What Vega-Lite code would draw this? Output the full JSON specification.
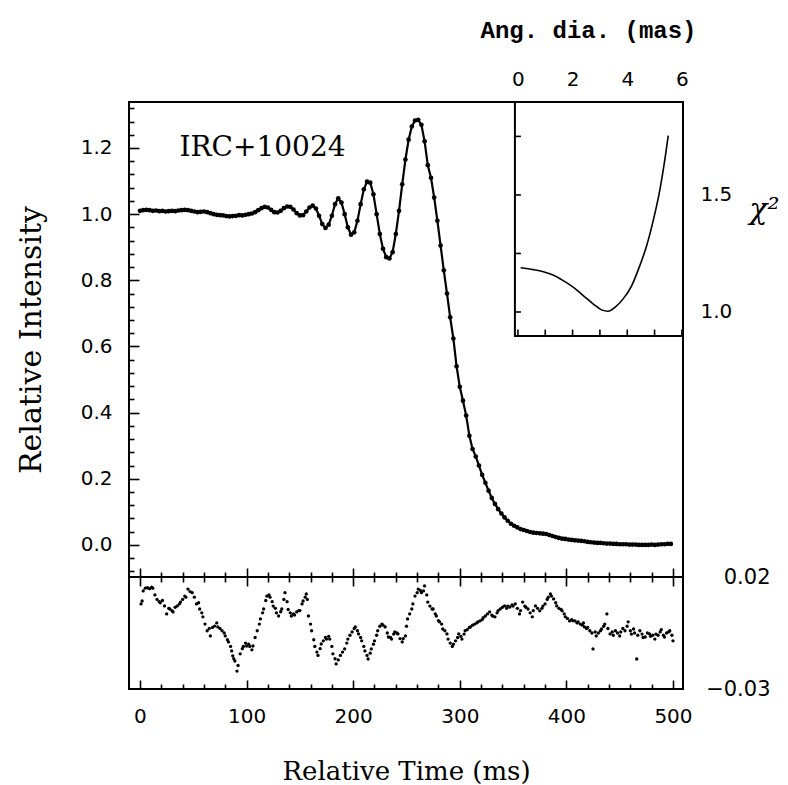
{
  "$schema": "https://vega.github.io/schema/vega-lite/v6.json",
  "background": "white",
  "padding": {"left": 15, "top": 17, "right": 5, "bottom": 5},
  "spacing": 0,
  "bounds": "flush",
  "config": {
    "view": {"stroke": "black", "strokeWidth": 2},
    "axis": {"domain": false, "grid": false, "tickColor": "black", "tickWidth": 1.6, "labelFont": "DejaVu Sans", "labelFontSize": 20, "labelColor": "black", "titleColor": "black", "titleFontWeight": "normal", "labelOverlap": false, "labelBound": false}
  },
  "vconcat": [
    {
      "width": 554,
      "height": 475,
      "layer": [
        {
          "layer": [
            {
              "data": {"values": [
                {"t":0,"i":1.01},{"t":3,"i":1.012},{"t":6,"i":1.013},{"t":9,"i":1.012},{"t":12,"i":1.01},{"t":15,"i":1.011},{"t":18,"i":1.009},{"t":21,"i":1.01},{"t":24,"i":1.008},{"t":27,"i":1.009},{"t":30,"i":1.01},{"t":33,"i":1.009},{"t":36,"i":1.011},{"t":39,"i":1.012},{"t":42,"i":1.013},{"t":45,"i":1.012},{"t":48,"i":1.01},{"t":51,"i":1.008},{"t":54,"i":1.006},{"t":57,"i":1.007},{"t":60,"i":1.008},{"t":63,"i":1.006},{"t":66,"i":1.003},{"t":69,"i":1.0},{"t":72,"i":0.998},{"t":75,"i":0.997},{"t":78,"i":0.996},{"t":81,"i":0.994},{"t":84,"i":0.993},{"t":87,"i":0.994},{"t":90,"i":0.995},{"t":93,"i":0.997},{"t":96,"i":0.996},{"t":99,"i":0.998},{"t":102,"i":1.0},{"t":105,"i":1.002},{"t":108,"i":1.006},{"t":111,"i":1.012},{"t":114,"i":1.018},{"t":117,"i":1.022},{"t":120,"i":1.02},{"t":123,"i":1.013},{"t":126,"i":1.006},{"t":129,"i":1.005},{"t":132,"i":1.01},{"t":135,"i":1.018},{"t":138,"i":1.023},{"t":141,"i":1.022},{"t":144,"i":1.014},{"t":147,"i":1.003},{"t":150,"i":0.996},{"t":153,"i":0.997},{"t":156,"i":1.008},{"t":159,"i":1.02},{"t":162,"i":1.026},{"t":165,"i":1.017},{"t":168,"i":0.995},{"t":171,"i":0.97},{"t":174,"i":0.958},{"t":177,"i":0.968},{"t":180,"i":0.995},{"t":183,"i":1.03},{"t":186,"i":1.048},{"t":189,"i":1.035},{"t":192,"i":1.0},{"t":195,"i":0.96},{"t":198,"i":0.938},{"t":201,"i":0.945},{"t":204,"i":0.98},{"t":207,"i":1.03},{"t":210,"i":1.075},{"t":213,"i":1.098},{"t":216,"i":1.095},{"t":219,"i":1.06},{"t":222,"i":1.0},{"t":225,"i":0.94},{"t":228,"i":0.895},{"t":231,"i":0.87},{"t":234,"i":0.866},{"t":237,"i":0.885},{"t":240,"i":0.94},{"t":243,"i":1.01},{"t":246,"i":1.09},{"t":249,"i":1.165},{"t":252,"i":1.225},{"t":255,"i":1.265},{"t":258,"i":1.283},{"t":261,"i":1.285},{"t":264,"i":1.27},{"t":267,"i":1.22},{"t":270,"i":1.148},{"t":273,"i":1.11},{"t":276,"i":1.05},{"t":279,"i":0.98},{"t":282,"i":0.905},{"t":285,"i":0.83},{"t":288,"i":0.76},{"t":291,"i":0.688},{"t":294,"i":0.624},{"t":297,"i":0.54},{"t":300,"i":0.478},{"t":303,"i":0.436},{"t":306,"i":0.391},{"t":309,"i":0.33},{"t":312,"i":0.29},{"t":315,"i":0.267},{"t":318,"i":0.24},{"t":321,"i":0.212},{"t":324,"i":0.188},{"t":327,"i":0.164},{"t":330,"i":0.142},{"t":333,"i":0.124},{"t":336,"i":0.108},{"t":339,"i":0.095},{"t":342,"i":0.083},{"t":345,"i":0.073},{"t":348,"i":0.064},{"t":351,"i":0.058},{"t":354,"i":0.053},{"t":357,"i":0.048},{"t":360,"i":0.045},{"t":363,"i":0.042},{"t":366,"i":0.039},{"t":369,"i":0.037},{"t":372,"i":0.036},{"t":375,"i":0.035},{"t":378,"i":0.034},{"t":381,"i":0.033},{"t":384,"i":0.03},{"t":387,"i":0.027},{"t":390,"i":0.024},{"t":393,"i":0.021},{"t":396,"i":0.019},{"t":399,"i":0.018},{"t":402,"i":0.016},{"t":405,"i":0.015},{"t":408,"i":0.014},{"t":411,"i":0.013},{"t":414,"i":0.012},{"t":417,"i":0.011},{"t":420,"i":0.009},{"t":423,"i":0.008},{"t":426,"i":0.007},{"t":429,"i":0.006},{"t":432,"i":0.006},{"t":435,"i":0.005},{"t":438,"i":0.004},{"t":441,"i":0.004},{"t":444,"i":0.003},{"t":447,"i":0.003},{"t":450,"i":0.002},{"t":453,"i":0.002},{"t":456,"i":0.002},{"t":459,"i":0.001},{"t":462,"i":0.001},{"t":465,"i":0.001},{"t":468,"i":0.0},{"t":471,"i":0.0},{"t":474,"i":0.0},{"t":477,"i":0.0},{"t":480,"i":0.001},{"t":483,"i":0.0},{"t":486,"i":0.001},{"t":489,"i":0.002},{"t":492,"i":0.002},{"t":495,"i":0.003},{"t":498,"i":0.003}
              ]},
              "layer": [
                {
                  "mark": {"type": "line", "color": "black", "strokeWidth": 2.2},
                  "encoding": {
                    "x": {"field": "t", "type": "quantitative", "scale": {"domain": [-10.3, 509.4], "nice": false, "zero": false},
                      "axis": {"orient": "bottom", "title": null, "labels": false, "tickCount": 200, "values": [0,20,40,60,80,100,120,140,160,180,200,220,240,260,280,300,320,340,360,380,400,420,440,460,480,500],
                        "tickSize": {"condition": {"test": "datum.value % 100 === 0", "value": -9}, "value": -5}}},
                    "y": {"field": "i", "type": "quantitative", "scale": {"domain": [-0.097, 1.339], "nice": false, "zero": false},
                      "axis": {"orient": "left", "title": "Relative Intensity", "titleFont": "DejaVu Serif", "titleFontSize": 30, "titlePadding": 34, "labelOverlap": false, "tickCount": 200,
                        "values": [-0.08,-0.04,0,0.04,0.08,0.12,0.16,0.2,0.24,0.28,0.32,0.36,0.4,0.44,0.48,0.52,0.56,0.6,0.64,0.68,0.72,0.76,0.8,0.84,0.88,0.92,0.96,1,1.04,1.08,1.12,1.16,1.2,1.24,1.28,1.32],
                        "tickSize": {"condition": {"test": "abs(datum.value*5 - round(datum.value*5)) < 0.001", "value": -10}, "value": -5},
                        "labelExpr": "abs(datum.value*5 - round(datum.value*5)) < 0.001 && datum.value > -0.01 ? format(datum.value, '.1f') : ''",
                        "labelPadding": 27}}
                  }
                },
                {
                  "mark": {"type": "circle", "color": "black", "size": 22, "opacity": 1},
                  "encoding": {
                    "x": {"field": "t", "type": "quantitative"},
                    "y": {"field": "i", "type": "quantitative"}
                  }
                }
              ]
            },
            {
              "data": {"values": [{}]},
              "mark": {"type": "text", "font": "DejaVu Serif", "fontSize": 28, "align": "left", "baseline": "middle", "color": "black"},
              "encoding": {
                "x": {"datum": 37, "type": "quantitative"},
                "y": {"datum": 1.2, "type": "quantitative"},
                "text": {"value": "IRC+10024"}
              }
            }
          ]
        },
        {
          "layer": [
            {
              "data": {"values": [{}]},
              "mark": {"type": "rect", "fill": "white", "stroke": "black", "strokeWidth": 2},
              "encoding": {
                "x": {"datum": -0.11, "type": "quantitative", "scale": {"domain": [-14.23, 6.04], "nice": false, "zero": false}},
                "x2": {"datum": 6.04},
                "y": {"datum": 0.897, "type": "quantitative", "scale": {"domain": [-0.132, 1.897], "nice": false, "zero": false}},
                "y2": {"datum": 1.897}
              }
            },
            {
              "data": {"values": [{"v":0},{"v":1},{"v":2},{"v":3},{"v":4},{"v":5},{"v":6}]},
              "mark": {"type": "rule", "color": "black", "strokeWidth": 1.6},
              "encoding": {
                "x": {"field": "v", "type": "quantitative"},
                "y": {"datum": 0.897, "type": "quantitative"},
                "y2": {"datum": 0.925}
              }
            },
            {
              "data": {"values": [{"v":1},{"v":1.25},{"v":1.5},{"v":1.75}]},
              "mark": {"type": "rule", "color": "black", "strokeWidth": 1.6},
              "encoding": {
                "x": {"datum": -0.11, "type": "quantitative"},
                "x2": {"datum": 0.11},
                "y": {"field": "v", "type": "quantitative"}
              }
            },
            {
              "data": {"values": [
                {"d":0.10,"c":1.189},{"d":0.56,"c":1.181},{"d":0.93,"c":1.172},{"d":1.29,"c":1.158},{"d":1.66,"c":1.134},{"d":2.02,"c":1.106},{"d":2.39,"c":1.07},{"d":2.76,"c":1.034},{"d":3.06,"c":1.009},{"d":3.3,"c":1.003},{"d":3.55,"c":1.02},{"d":3.85,"c":1.056},{"d":4.16,"c":1.112},{"d":4.46,"c":1.198},{"d":4.71,"c":1.283},{"d":4.95,"c":1.39},{"d":5.2,"c":1.526},{"d":5.38,"c":1.654},{"d":5.5,"c":1.753}
              ]},
              "mark": {"type": "line", "color": "black", "strokeWidth": 1.6, "interpolate": "monotone"},
              "encoding": {
                "x": {"field": "d", "type": "quantitative", "scale": {"domain": [-14.23, 6.04], "nice": false, "zero": false},
                  "axis": {"orient": "top", "title": "Ang. dia. (mas)", "titleFont": "Liberation Mono", "titleFontWeight": "bold", "titleFontSize": 24, "titleX": 459, "titleAlign": "center", "titlePadding": 25, "labelOverlap": false, "tickCount": 100,
                    "values": [0,1,2,3,4,5,6], "format": "d",
                    "tickSize": {"condition": {"test": "datum.value % 2 === 0", "value": -7}, "value": -5},
                    "labelExpr": "datum.value % 2 === 0 ? format(datum.value, 'd') : ''", "labelPadding": 20}},
                "y": {"field": "c", "type": "quantitative", "scale": {"domain": [-0.132, 1.897], "nice": false, "zero": false},
                  "axis": {"orient": "right", "title": "χ²", "titleAngle": 0, "titleFont": "DejaVu Serif", "titleFontStyle": "italic", "titleFontSize": 30, "titleY": 122, "titlePadding": 32, "labelOverlap": false, "tickCount": 100,
                    "values": [1, 1.25, 1.5, 1.75],
                    "tickSize": -6,
                    "labelExpr": "datum.value == 1 || datum.value == 1.5 ? format(datum.value, '.1f') : ''", "labelPadding": 23}}
              }
            }
          ]
        }
      ],
      "resolve": {"scale": {"x": "independent", "y": "independent"}}
    },
    {
      "width": 554,
      "height": 112,
      "data": {"values": [
        {"t":1,"r":0.008},{"t":2,"r":0.0093},{"t":3,"r":0.0138},{"t":5,"r":0.015},{"t":7,"r":0.0152},{"t":9,"r":0.0148},{"t":11,"r":0.0155},{"t":12,"r":0.015},{"t":14,"r":0.012},{"t":16,"r":0.01},{"t":18,"r":0.009},{"t":19,"r":0.0085},{"t":21,"r":0.0095},{"t":23,"r":0.0071},{"t":25,"r":0.0035},{"t":27,"r":0.006},{"t":28,"r":0.0057},{"t":30,"r":0.005},{"t":31,"r":0.0044},{"t":33,"r":0.0065},{"t":35,"r":0.0071},{"t":37,"r":0.008},{"t":38,"r":0.0088},{"t":40,"r":0.01},{"t":42,"r":0.0115},{"t":43,"r":0.011},{"t":45,"r":0.0146},{"t":47,"r":0.0135},{"t":49,"r":0.013},{"t":51,"r":0.011},{"t":53,"r":0.008},{"t":55,"r":0.0085},{"t":56,"r":0.0057},{"t":58,"r":0.004},{"t":59,"r":0.0022},{"t":61,"r":-0.001},{"t":63,"r":-0.004},{"t":65,"r":-0.003},{"t":66,"r":-0.0063},{"t":68,"r":-0.0025},{"t":70,"r":-0.0019},{"t":72,"r":-0.0005},{"t":73,"r":-0.0023},{"t":75,"r":-0.003},{"t":77,"r":-0.004},{"t":79,"r":-0.005},{"t":80,"r":-0.0063},{"t":82,"r":-0.008},{"t":83,"r":-0.009},{"t":85,"r":-0.011},{"t":86,"r":-0.013},{"t":87,"r":-0.0152},{"t":88,"r":-0.0165},{"t":89,"r":-0.0175},{"t":91,"r":-0.022},{"t":92,"r":-0.0195},{"t":94,"r":-0.0143},{"t":96,"r":-0.012},{"t":97,"r":-0.011},{"t":99,"r":-0.0095},{"t":100,"r":-0.0108},{"t":102,"r":-0.01},{"t":103,"r":-0.011},{"t":105,"r":-0.0125},{"t":106,"r":-0.0108},{"t":108,"r":-0.007},{"t":110,"r":-0.004},{"t":112,"r":-0.001},{"t":113,"r":0.0013},{"t":115,"r":0.004},{"t":116,"r":0.0057},{"t":118,"r":0.0095},{"t":119,"r":0.0115},{"t":121,"r":0.012},{"t":122,"r":0.011},{"t":124,"r":0.009},{"t":125,"r":0.007},{"t":127,"r":0.006},{"t":128,"r":0.004},{"t":130,"r":0.0026},{"t":132,"r":0.0045},{"t":133,"r":0.0057},{"t":135,"r":0.01},{"t":136,"r":0.013},{"t":138,"r":0.009},{"t":139,"r":0.0055},{"t":141,"r":0.004},{"t":142,"r":0.0026},{"t":144,"r":0.0035},{"t":145,"r":0.003},{"t":147,"r":0.0044},{"t":149,"r":0.005},{"t":150,"r":0.005},{"t":152,"r":0.008},{"t":153,"r":0.0093},{"t":155,"r":0.011},{"t":156,"r":0.0124},{"t":157,"r":0.01},{"t":158,"r":0.0026},{"t":160,"r":-0.001},{"t":161,"r":-0.004},{"t":163,"r":-0.008},{"t":164,"r":-0.011},{"t":166,"r":-0.0135},{"t":167,"r":-0.015},{"t":169,"r":-0.012},{"t":170,"r":-0.0099},{"t":172,"r":-0.0085},{"t":174,"r":-0.007},{"t":175,"r":-0.0077},{"t":177,"r":-0.0065},{"t":178,"r":-0.0077},{"t":180,"r":-0.011},{"t":181,"r":-0.0143},{"t":183,"r":-0.0165},{"t":184,"r":-0.0188},{"t":186,"r":-0.017},{"t":188,"r":-0.015},{"t":190,"r":-0.0135},{"t":192,"r":-0.0121},{"t":194,"r":-0.0095},{"t":195,"r":-0.0077},{"t":197,"r":-0.006},{"t":199,"r":-0.0045},{"t":201,"r":-0.003},{"t":202,"r":-0.0023},{"t":204,"r":-0.004},{"t":205,"r":-0.0054},{"t":207,"r":-0.007},{"t":208,"r":-0.0085},{"t":210,"r":-0.011},{"t":211,"r":-0.013},{"t":213,"r":-0.015},{"t":214,"r":-0.0166},{"t":216,"r":-0.014},{"t":217,"r":-0.0121},{"t":219,"r":-0.01},{"t":220,"r":-0.0085},{"t":222,"r":-0.006},{"t":223,"r":-0.004},{"t":225,"r":-0.002},{"t":227,"r":-0.001},{"t":228,"r":-0.0015},{"t":230,"r":-0.0023},{"t":232,"r":-0.005},{"t":233,"r":-0.0068},{"t":235,"r":-0.007},{"t":236,"r":-0.0077},{"t":238,"r":-0.0055},{"t":239,"r":-0.0045},{"t":241,"r":-0.005},{"t":242,"r":-0.0054},{"t":244,"r":-0.0075},{"t":246,"r":-0.009},{"t":247,"r":-0.0075},{"t":249,"r":-0.0063},{"t":250,"r":-0.002},{"t":251,"r":0.0013},{"t":253,"r":0.0035},{"t":255,"r":0.0057},{"t":256,"r":0.008},{"t":258,"r":0.0115},{"t":260,"r":0.013},{"t":261,"r":0.0146},{"t":263,"r":0.014},{"t":264,"r":0.013},{"t":266,"r":0.0138},{"t":267,"r":0.016},{"t":269,"r":0.012},{"t":270,"r":0.0088},{"t":272,"r":0.007},{"t":274,"r":0.0057},{"t":275,"r":0.0057},{"t":277,"r":0.0035},{"t":278,"r":0.0026},{"t":280,"r":0.0005},{"t":281,"r":0.0},{"t":283,"r":-0.001},{"t":284,"r":-0.0032},{"t":286,"r":-0.004},{"t":288,"r":-0.0054},{"t":289,"r":-0.0077},{"t":291,"r":-0.0095},{"t":293,"r":-0.011},{"t":294,"r":-0.01},{"t":296,"r":-0.0085},{"t":298,"r":-0.007},{"t":299,"r":-0.0054},{"t":301,"r":-0.0065},{"t":302,"r":-0.0077},{"t":304,"r":-0.0055},{"t":305,"r":-0.004},{"t":307,"r":-0.0035},{"t":309,"r":-0.0025},{"t":310,"r":-0.0023},{"t":312,"r":-0.0015},{"t":314,"r":-0.001},{"t":316,"r":-0.0005},{"t":317,"r":0.0},{"t":319,"r":0.0004},{"t":321,"r":0.001},{"t":322,"r":0.0018},{"t":324,"r":0.0026},{"t":326,"r":0.0035},{"t":328,"r":0.0044},{"t":330,"r":0.003},{"t":331,"r":0.0025},{"t":333,"r":0.0022},{"t":335,"r":0.004},{"t":336,"r":0.005},{"t":338,"r":0.0057},{"t":340,"r":0.0065},{"t":342,"r":0.0071},{"t":344,"r":0.006},{"t":345,"r":0.007},{"t":347,"r":0.0066},{"t":349,"r":0.0075},{"t":350,"r":0.007},{"t":352,"r":0.008},{"t":354,"r":0.006},{"t":356,"r":0.0035},{"t":357,"r":0.005},{"t":359,"r":0.0088},{"t":361,"r":0.007},{"t":362,"r":0.0065},{"t":364,"r":0.0057},{"t":366,"r":0.004},{"t":368,"r":0.0022},{"t":369,"r":0.005},{"t":371,"r":0.0071},{"t":373,"r":0.006},{"t":375,"r":0.0049},{"t":377,"r":0.006},{"t":378,"r":0.007},{"t":380,"r":0.008},{"t":382,"r":0.01},{"t":383,"r":0.011},{"t":385,"r":0.0124},{"t":386,"r":0.0115},{"t":388,"r":0.0102},{"t":390,"r":0.0085},{"t":391,"r":0.0071},{"t":393,"r":0.006},{"t":395,"r":0.0055},{"t":396,"r":0.0049},{"t":398,"r":0.0035},{"t":399,"r":0.0022},{"t":401,"r":0.0015},{"t":403,"r":0.0004},{"t":405,"r":0.001},{"t":406,"r":0.0005},{"t":408,"r":0.0004},{"t":410,"r":-0.0005},{"t":411,"r":0.0},{"t":413,"r":-0.001},{"t":415,"r":-0.0015},{"t":416,"r":-0.0005},{"t":417,"r":-0.0023},{"t":419,"r":-0.003},{"t":420,"r":-0.0025},{"t":422,"r":-0.004},{"t":424,"r":-0.005},{"t":425,"r":-0.0121},{"t":427,"r":-0.0045},{"t":428,"r":-0.0063},{"t":430,"r":-0.005},{"t":432,"r":-0.004},{"t":433,"r":-0.0032},{"t":435,"r":-0.002},{"t":436,"r":-0.001},{"t":438,"r":0.0035},{"t":439,"r":-0.003},{"t":441,"r":-0.0054},{"t":443,"r":-0.0045},{"t":444,"r":-0.006},{"t":446,"r":-0.004},{"t":448,"r":-0.005},{"t":450,"r":-0.0063},{"t":451,"r":-0.0045},{"t":453,"r":-0.003},{"t":455,"r":-0.004},{"t":457,"r":-0.002},{"t":458,"r":0.0},{"t":460,"r":-0.004},{"t":461,"r":-0.0055},{"t":463,"r":-0.0032},{"t":464,"r":-0.005},{"t":466,"r":-0.0166},{"t":467,"r":-0.006},{"t":469,"r":-0.004},{"t":471,"r":-0.0055},{"t":472,"r":-0.007},{"t":474,"r":-0.0068},{"t":476,"r":-0.005},{"t":478,"r":-0.0054},{"t":479,"r":-0.0065},{"t":481,"r":-0.006},{"t":483,"r":-0.0077},{"t":484,"r":-0.0055},{"t":486,"r":-0.006},{"t":488,"r":-0.0045},{"t":489,"r":-0.0035},{"t":491,"r":-0.006},{"t":492,"r":-0.0068},{"t":494,"r":-0.005},{"t":496,"r":-0.0045},{"t":497,"r":-0.004},{"t":499,"r":-0.006},{"t":500,"r":-0.0085}
      ]},
      "layer": [
        {
          "mark": {"type": "circle", "color": "black", "size": 11, "opacity": 1},
          "encoding": {
            "x": {"field": "t", "type": "quantitative", "scale": {"domain": [-10.3, 509.4], "nice": false, "zero": false},
              "axis": {"orient": "bottom", "title": "Relative Time (ms)", "titleFont": "DejaVu Serif", "titleFontSize": 26, "titlePadding": 28, "labelOverlap": false, "tickCount": 200,
                "values": [0,20,40,60,80,100,120,140,160,180,200,220,240,260,280,300,320,340,360,380,400,420,440,460,480,500],
                "tickSize": {"condition": {"test": "datum.value % 100 === 0", "value": -9}, "value": -5},
                "labelExpr": "datum.value % 100 === 0 ? format(datum.value, 'd') : ''", "labelPadding": 26, "labelFlush": false}},
            "y": {"field": "r", "type": "quantitative", "scale": {"domain": [-0.03, 0.02], "nice": false, "zero": false},
              "axis": {"orient": "right", "title": null, "values": [-0.03, 0.02], "format": ".2f", "ticks": false, "labelAlign": "right", "labelPadding": 87, "labelFontSize": 21}}
          }
        },
        {
          "mark": {"type": "point", "opacity": 0},
          "encoding": {
            "x": {"field": "t", "type": "quantitative",
              "axis": {"orient": "top", "title": null, "labels": false, "tickCount": 200,
                "values": [0,20,40,60,80,100,120,140,160,180,200,220,240,260,280,300,320,340,360,380,400,420,440,460,480,500],
                "tickSize": {"condition": {"test": "datum.value % 100 === 0", "value": -9}, "value": -5}}},
            "y": {"field": "r", "type": "quantitative"}
          }
        }
      ],
      "resolve": {"axis": {"x": "independent"}}
    }
  ]
}
